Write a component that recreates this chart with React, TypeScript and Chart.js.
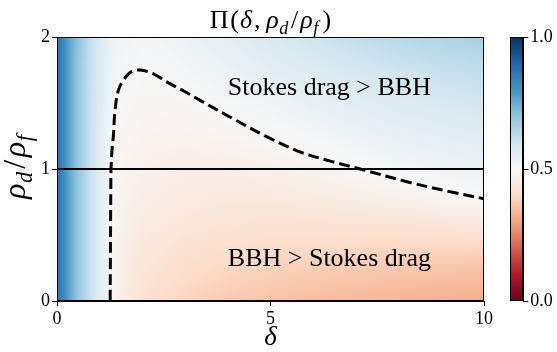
import { useEffect, useRef } from "react";
import { Chart, registerables } from "chart.js";

Chart.register(...registerables);

// Axis ticks
const deltaTicks = [0, 5, 10];
const ratioTicks = [0, 1, 2];
const piTicks = [0, 0.5, 1];

// Π sampled on a (δ, ρd/ρf) grid: one row per ratioGrid entry, one column per deltaGrid entry
const deltaGrid = [0, 0.25, 0.5, 0.75, 1, 1.25, 1.5, 2, 2.5, 3, 4, 5, 6, 7, 8, 9, 10];
const ratioGrid = [0, 0.25, 0.5, 0.75, 1, 1.25, 1.5, 1.75, 2];
const piField = [
  [0.88, 0.78, 0.69, 0.62, 0.56, 0.5, 0.465, 0.425, 0.405, 0.39, 0.37, 0.355, 0.345, 0.335, 0.328, 0.322, 0.318],
  [0.88, 0.78, 0.69, 0.62, 0.56, 0.5, 0.47, 0.44, 0.425, 0.41, 0.395, 0.385, 0.375, 0.37, 0.365, 0.36, 0.355],
  [0.88, 0.78, 0.69, 0.62, 0.56, 0.5, 0.475, 0.455, 0.445, 0.435, 0.425, 0.418, 0.415, 0.415, 0.415, 0.418, 0.42],
  [0.88, 0.78, 0.69, 0.62, 0.56, 0.5, 0.48, 0.465, 0.458, 0.452, 0.448, 0.448, 0.452, 0.46, 0.47, 0.482, 0.495],
  [0.88, 0.78, 0.69, 0.62, 0.56, 0.5, 0.487, 0.475, 0.47, 0.466, 0.466, 0.472, 0.482, 0.497, 0.51, 0.52, 0.53],
  [0.88, 0.78, 0.69, 0.62, 0.56, 0.505, 0.493, 0.484, 0.482, 0.482, 0.488, 0.498, 0.51, 0.525, 0.54, 0.55, 0.56],
  [0.88, 0.78, 0.69, 0.62, 0.565, 0.515, 0.5, 0.492, 0.491, 0.494, 0.505, 0.52, 0.54, 0.555, 0.57, 0.582, 0.594],
  [0.88, 0.78, 0.69, 0.625, 0.57, 0.522, 0.51, 0.5, 0.502, 0.51, 0.53, 0.55, 0.57, 0.588, 0.603, 0.615, 0.627],
  [0.88, 0.78, 0.7, 0.63, 0.575, 0.532, 0.52, 0.51, 0.515, 0.527, 0.552, 0.578, 0.602, 0.622, 0.64, 0.655, 0.668],
];

// Π = 0.5 boundary
const contourDelta = [1.245, 1.25, 1.255, 1.26, 1.265, 1.29, 1.32, 1.36, 1.44, 1.55, 1.71, 1.94, 2.26, 2.57, 3.0, 3.35, 4.13, 4.91, 5.69, 6.4, 7.1, 8.24, 9.32, 10];
const contourRatio = [0, 0.3, 0.6, 0.85, 1.0, 1.15, 1.25, 1.45, 1.6, 1.67, 1.73, 1.75, 1.72, 1.66, 1.585, 1.52, 1.38, 1.245, 1.13, 1.06, 1.0, 0.9, 0.82, 0.775];

// neutrally buoyant droplet
const neutralDelta = [0, 10];
const neutralRatio = [1, 1];

const regionText = ["Stokes drag > BBH", "BBH > Stokes drag"];
const regionDelta = [4.0, 4.0];
const regionRatio = [1.56, 0.265];

const SERIF = '"Liberation Serif", "Times New Roman", serif';
const TICK_FONT = { family: SERIF, size: 18 };

const RDBU = [
  "#67001f", "#b2182b", "#d6604d", "#f4a582", "#fddbc7", "#f7f7f7",
  "#d1e5f0", "#92c5de", "#4393c3", "#2166ac", "#053061",
].map((h) => [parseInt(h.slice(1, 3), 16), parseInt(h.slice(3, 5), 16), parseInt(h.slice(5, 7), 16)]);

function rdbu(v: number): number[] {
  const t = Math.max(0, Math.min(1, v)) * 10;
  const i = Math.min(9, Math.floor(t));
  const f = t - i;
  const a = RDBU[i];
  const b = RDBU[i + 1];
  return [a[0] + (b[0] - a[0]) * f, a[1] + (b[1] - a[1]) * f, a[2] + (b[2] - a[2]) * f];
}

function bracket(grid: number[], v: number): [number, number] {
  if (v <= grid[0]) return [0, 0];
  for (let i = 0; i < grid.length - 1; i++) {
    if (v <= grid[i + 1]) return [i, (v - grid[i]) / (grid[i + 1] - grid[i])];
  }
  return [grid.length - 2, 1];
}

function samplePi(d: number, r: number): number {
  const [i, fx] = bracket(deltaGrid, d);
  const [j, fy] = bracket(ratioGrid, r);
  const i1 = Math.min(i + 1, deltaGrid.length - 1);
  const j1 = Math.min(j + 1, ratioGrid.length - 1);
  const a = piField[j][i] * (1 - fx) + piField[j][i1] * fx;
  const b = piField[j1][i] * (1 - fx) + piField[j1][i1] * fx;
  return a * (1 - fy) + b * fy;
}

type Seg = { t: string; it?: boolean; sub?: boolean; gap?: number };

function drawMath(ctx: CanvasRenderingContext2D, segs: Seg[], size: number, x: number, y: number) {
  const fontOf = (s: Seg) => `${s.it ? "italic " : ""}${s.sub ? size * 0.7 : size}px ${SERIF}`;
  const widths = segs.map((s) => {
    ctx.font = fontOf(s);
    return ctx.measureText(s.t).width + (s.gap || 0) * size;
  });
  const total = widths.reduce((p, c) => p + c, 0);
  let cx = x - total / 2;
  ctx.textAlign = "left";
  ctx.textBaseline = "alphabetic";
  segs.forEach((s, k) => {
    ctx.font = fontOf(s);
    ctx.fillText(s.t, cx, y + (s.sub ? size * 0.22 : 0));
    cx += widths[k];
  });
}

const titleSegs: Seg[] = [
  { t: "Π", gap: 0.06 }, { t: "(", gap: 0.04 }, { t: "δ", it: true, gap: 0.08 }, { t: ",", gap: 0.22 },
  { t: "ρ", it: true, gap: 0.02 }, { t: "d", it: true, sub: true, gap: 0.1 }, { t: "/", gap: 0.08 },
  { t: "ρ", it: true, gap: 0.02 }, { t: "f", it: true, sub: true, gap: 0.16 }, { t: ")" },
];
const yLabelSegs: Seg[] = [
  { t: "ρ", it: true, gap: 0.02 }, { t: "d", it: true, sub: true, gap: 0.1 }, { t: "/", gap: 0.08 },
  { t: "ρ", it: true, gap: 0.02 }, { t: "f", it: true, sub: true },
];

const fieldPlugin = {
  id: "piField",
  beforeDraw(chart: any) {
    const { ctx, chartArea: a, scales } = chart;
    const w = Math.round(a.right - a.left);
    const h = Math.round(a.bottom - a.top);
    const off = document.createElement("canvas");
    off.width = w;
    off.height = h;
    const octx = off.getContext("2d")!;
    const img = octx.createImageData(w, h);
    for (let py = 0; py < h; py++) {
      const r = scales.y.getValueForPixel(a.top + py + 0.5);
      for (let px = 0; px < w; px++) {
        const d = scales.x.getValueForPixel(a.left + px + 0.5);
        const c = rdbu(samplePi(d, r));
        const k = (py * w + px) * 4;
        img.data[k] = c[0];
        img.data[k + 1] = c[1];
        img.data[k + 2] = c[2];
        img.data[k + 3] = 255;
      }
    }
    octx.putImageData(img, 0, 0);
    ctx.drawImage(off, a.left, a.top, a.right - a.left, a.bottom - a.top);
  },
  afterDraw(chart: any) {
    const { ctx, chartArea: a, scales } = chart;
    ctx.save();
    ctx.strokeStyle = "#000";
    ctx.lineWidth = 1;
    ctx.strokeRect(Math.round(a.left) + 0.5, Math.round(a.top) + 0.5, Math.round(a.right - a.left) - 1, Math.round(a.bottom - a.top) - 1);
    ctx.fillStyle = "#000";
    const midX = (a.left + a.right) / 2;
    drawMath(ctx, titleSegs, 26, midX, 28);
    drawMath(ctx, [{ t: "δ", it: true }], 27, midX, 345);
    ctx.save();
    ctx.translate(25, 167);
    ctx.rotate(-Math.PI / 2);
    drawMath(ctx, yLabelSegs, 32, 0, 0);
    ctx.restore();
    ctx.font = `26px ${SERIF}`;
    ctx.textAlign = "left";
    ctx.textBaseline = "alphabetic";
    regionText.forEach((t, i) => {
      ctx.fillText(t, scales.x.getPixelForValue(regionDelta[i]), scales.y.getPixelForValue(regionRatio[i]));
    });
    ctx.restore();
  },
};

const colorbarPlugin = {
  id: "piColorbar",
  beforeDraw(chart: any) {
    const { ctx, chartArea: a } = chart;
    const g = ctx.createLinearGradient(0, a.bottom, 0, a.top);
    RDBU.forEach((c, i) => g.addColorStop(i / 10, `rgb(${c[0]},${c[1]},${c[2]})`));
    ctx.fillStyle = g;
    ctx.fillRect(a.left, a.top, a.right - a.left, a.bottom - a.top);
  },
  afterDraw(chart: any) {
    const { ctx, chartArea: a } = chart;
    ctx.save();
    ctx.strokeStyle = "#000";
    ctx.lineWidth = 1;
    ctx.strokeRect(Math.round(a.left) + 0.5, Math.round(a.top) + 0.5, Math.round(a.right - a.left) - 1, Math.round(a.bottom - a.top) - 1);
    ctx.restore();
  },
};

const tickAxis = (values: number[], fmt: (v: number) => string) => ({
  afterBuildTicks: (s: any) => {
    s.ticks = values.map((v) => ({ value: v }));
  },
  ticks: { font: TICK_FONT, color: "#000", padding: 2, callback: (v: any) => fmt(Number(v)) },
  grid: { drawOnChartArea: false, drawTicks: true, tickLength: 5, color: "#000", lineWidth: 1 },
  border: { display: true, color: "#000", width: 1 },
});

export default function App() {
  const mainRef = useRef<HTMLCanvasElement>(null);
  const barRef = useRef<HTMLCanvasElement>(null);

  useEffect(() => {
    const main = new Chart(mainRef.current!, {
      type: "scatter",
      data: {
        datasets: [
          {
            data: contourDelta.map((d, i) => ({ x: d, y: contourRatio[i] })),
            showLine: true,
            borderColor: "#000",
            borderWidth: 3,
            borderDash: [11, 5],
            pointRadius: 0,
            tension: 0.35,
          },
          {
            data: neutralDelta.map((d, i) => ({ x: d, y: neutralRatio[i] })),
            showLine: true,
            borderColor: "#000",
            borderWidth: 2,
            pointRadius: 0,
          },
        ],
      },
      options: {
        animation: false,
        responsive: true,
        maintainAspectRatio: false,
        layout: { padding: { top: 37, right: 73, left: 0, bottom: 0 } },
        plugins: { legend: { display: false }, tooltip: { enabled: false } },
        scales: {
          x: {
            type: "linear",
            min: 0,
            max: 10,
            ...tickAxis(deltaTicks, (v) => String(v)),
            afterFit: (s: any) => {
              s.height = 51;
            },
          },
          y: {
            type: "linear",
            min: 0,
            max: 2,
            ...tickAxis(ratioTicks, (v) => String(v)),
            afterFit: (s: any) => {
              s.width = 57;
            },
          },
        },
      } as any,
      plugins: [fieldPlugin],
    });

    const bar = new Chart(barRef.current!, {
      type: "scatter",
      data: { datasets: [] },
      options: {
        animation: false,
        responsive: true,
        maintainAspectRatio: false,
        layout: { padding: { top: 37, right: 0, left: 20, bottom: 51 } },
        plugins: { legend: { display: false }, tooltip: { enabled: false } },
        scales: {
          x: { display: false, min: 0, max: 1 },
          y: {
            type: "linear",
            position: "right",
            min: 0,
            max: 1,
            ...tickAxis(piTicks, (v) => v.toFixed(1)),
            afterFit: (s: any) => {
              s.width = 33.7;
            },
          },
        },
      } as any,
      plugins: [colorbarPlugin],
    });

    return () => {
      main.destroy();
      bar.destroy();
    };
  }, []);

  return (
    <div style={{ position: "absolute", left: 0, top: 0, width: 557, height: 352, background: "#fff" }}>
      <div style={{ position: "absolute", left: 0, top: 0, width: 557, height: 352 }}>
        <canvas ref={mainRef} />
      </div>
      <div style={{ position: "absolute", left: 490, top: 0, width: 67, height: 352 }}>
        <canvas ref={barRef} />
      </div>
    </div>
  );
}
